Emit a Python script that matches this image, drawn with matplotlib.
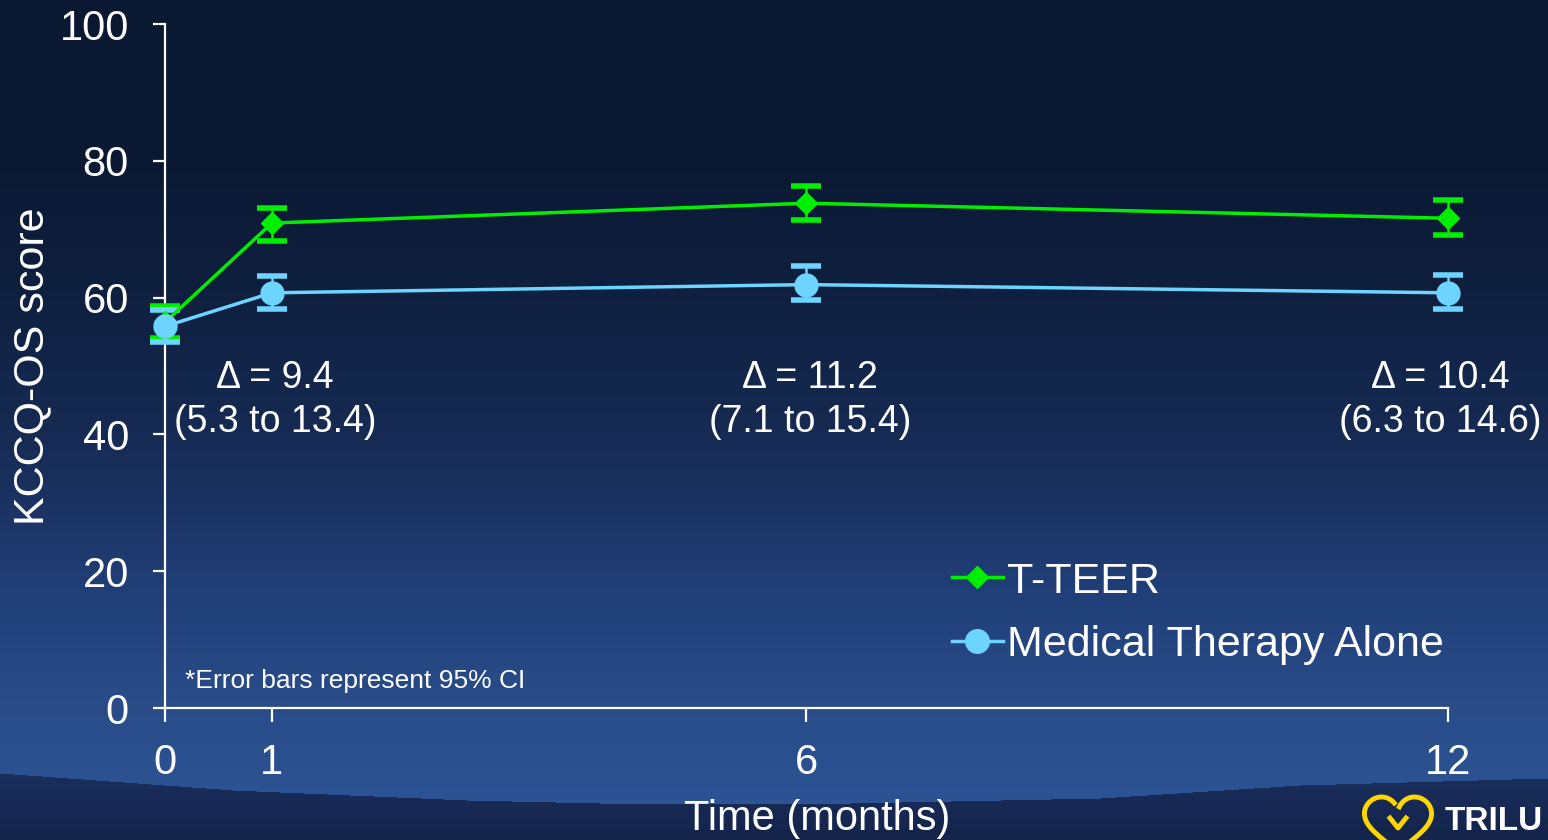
import matplotlib
matplotlib.use("Agg")
import matplotlib.pyplot as plt
from matplotlib.lines import Line2D
import numpy as np

plt.rcParams['font.family'] = ['Liberation Sans', 'DejaVu Sans']

# data
months = [0, 1, 6, 12]
teer = [56.4, 70.9, 73.8, 71.6]
teer_lo = [54.1, 68.3, 71.3, 69.1]
teer_hi = [58.7, 73.1, 76.3, 74.3]
mta = [55.8, 60.7, 61.9, 60.7]
mta_lo = [53.5, 58.3, 59.6, 58.3]
mta_hi = [58.2, 63.2, 64.6, 63.3]
delta_months = [1, 6, 12]
delta_labels = ["\u0394 = 9.4\n(5.3 to 13.4)",
                "\u0394 = 11.2\n(7.1 to 15.4)",
                "\u0394 = 10.4\n(6.3 to 14.6)"]
yticks = [0, 20, 40, 60, 80, 100]

green = "#00ee00"
blue = "#6cd4ff"
W, H = 1548, 840

# background: vertical gradient with a darker swoosh along the bottom
def hex2rgb(h):
    return np.array([int(h[i:i + 2], 16) for i in (1, 3, 5)]) / 255.0

stops_y = [0, 150, 300, 450, 600, 700, 800, 840]
stops_c = ["#0a1832", "#0a1832", "#0f2040", "#172c56", "#21407a", "#294c88", "#2c5394", "#2c5394"]
cols = np.array([hex2rgb(c) for c in stops_c])
rows = np.arange(H)
grad = np.stack([np.interp(rows, stops_y, cols[:, k]) for k in range(3)], axis=1)
img = np.repeat(grad[:, None, :], W, axis=1)
cx = [0, 233, 467, 600, 850, 1100, 1300, 1548]
cy = [773, 790, 800, 803, 803, 798, 785, 778]
curve = np.interp(np.arange(W), cx, cy)
below = rows[:, None] > curve[None, :]
dark_top, dark_bot = hex2rgb("#1a2f5e"), hex2rgb("#14244a")
t = np.clip((rows - 770) / 70.0, 0, 1)[:, None]
dark = dark_top * (1 - t) + dark_bot * t
img[below] = np.repeat(dark[:, None, :], W, axis=1)[below]

fig = plt.figure(figsize=(W / 100, H / 100), dpi=100)
bg = fig.add_axes([0, 0, 1, 1], zorder=-10)
bg.imshow(img, aspect="auto", extent=[0, 1, 0, 1])
bg.axis("off")

ax = fig.add_axes([165 / W, 1 - 708 / H, (1448 - 165) / W, (708 - 24) / H])
ax.patch.set_alpha(0)

def err(mean, lo, hi):
    return [np.array(mean) - np.array(lo), np.array(hi) - np.array(mean)]

for mean, lo, hi, c in [(teer, teer_lo, teer_hi, green), (mta, mta_lo, mta_hi, blue)]:
    eb = ax.errorbar(months, mean, yerr=err(mean, lo, hi), fmt="none", ecolor=c,
                     elinewidth=1.8, capsize=11, capthick=4, zorder=3)
    for a in list(eb.lines[1]) + list(eb.lines[2]):
        a.set_clip_on(False)

l1, = ax.plot(months, teer, color=green, lw=2.5, marker="D", ms=11, zorder=4, clip_on=False)
l2, = ax.plot(months, mta, color=blue, lw=2.5, marker="o", ms=16.5, zorder=5, clip_on=False)

for m, lab in zip(delta_months, delta_labels):
    # keep the last label inside the figure
    xoff = -0.07 if m == max(delta_months) else 0.03
    ax.text(m + xoff, 45.0, lab, ha="center", va="center", color="white",
            fontsize=27, linespacing=1.3)

ax.text(0.19, 3.9, "*Error bars represent 95% CI", color="white", fontsize=19,
        ha="left", va="center")

ax.set_xlim(0, 12)
ax.set_ylim(0, 100)
ax.set_xticks(months)
ax.set_yticks(yticks)
for s in ["top", "right"]:
    ax.spines[s].set_visible(False)
for s in ["left", "bottom"]:
    ax.spines[s].set_color("white")
    ax.spines[s].set_linewidth(1.6)
ax.tick_params(axis="y", colors="white", labelsize=30, length=9, width=1.6, pad=17)
ax.tick_params(axis="x", colors="white", labelsize=30, length=10, width=1.6, pad=15)

leg_handles = [Line2D([], [], color=green, lw=2.5, marker="D", ms=11),
               Line2D([], [], color=blue, lw=2.5, marker="o", ms=17)]
leg = fig.legend(leg_handles, ["T-TEER", "Medical Therapy Alone"], loc="upper left",
                 bbox_to_anchor=(930 / W, 1 - 540 / H), frameon=False, fontsize=31,
                 handlelength=1.2, handletextpad=0.08, labelspacing=0.55, borderpad=0,
                 labelcolor="white")

fig.text(817 / W, 1 - 819 / H, "Time (months)", color="white", fontsize=30,
         ha="center", va="center")
fig.text(32 / W, 1 - 366 / H, "KCCQ-OS score", color="white", fontsize=31,
         ha="center", va="center", rotation=90)

# logo at bottom right, cut by the figure edge
fig.text(1445 / W, 1 - 822 / H, "TRILU", color="white", fontsize=24,
         fontweight="bold", ha="left", va="center")
th = np.linspace(0.35, 2 * np.pi - 0.5, 80)
hx = 1398 + 2.1 * 16 * np.sin(th) ** 3
hy = 822 - 2.1 * (13 * np.cos(th) - 5 * np.cos(2 * th) - 2 * np.cos(3 * th) - np.cos(4 * th))
fig.add_artist(Line2D(hx / W, 1 - hy / H, color="#ffd600", lw=3.5))
fig.add_artist(Line2D(np.array([1390, 1398, 1406]) / W, 1 - np.array([818, 828, 818]) / H,
                      color="#ffd600", lw=3.5))

fig.savefig("out.png", dpi=100)
